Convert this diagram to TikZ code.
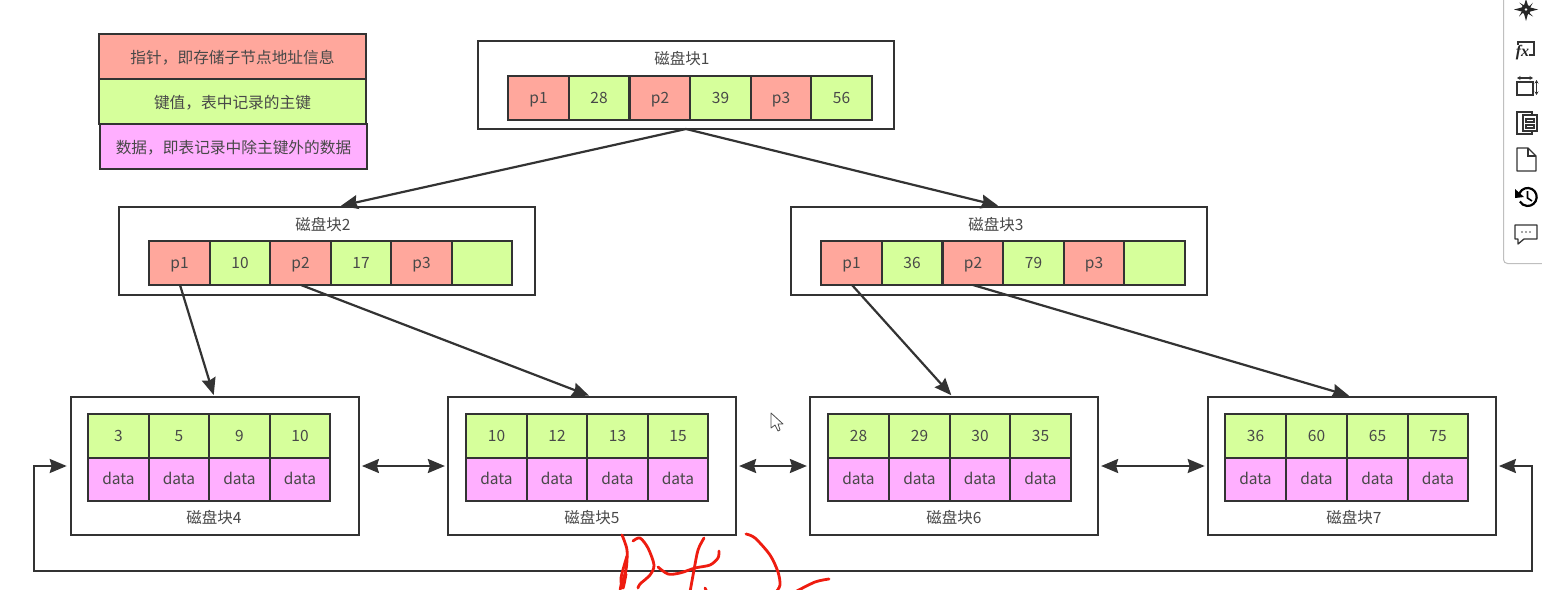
\documentclass[tikz,border=0pt]{standalone}
\usepackage{fontspec}
\usepackage{xcolor}
\usetikzlibrary{arrows.meta}
\setmainfont{Noto Sans CJK SC}
\newfontfamily\fxfont{Liberation Serif}
\definecolor{ptrred}{HTML}{FFA79C}
\definecolor{keygreen}{HTML}{D6FF9B}
\definecolor{datapink}{HTML}{FFAFFF}
\definecolor{linegray}{HTML}{333333}
\definecolor{textgray}{HTML}{484848}
\definecolor{penred}{HTML}{EE1C10}
\tikzset{
  cell/.style={draw=linegray,line width=2pt,minimum width=60.5,minimum height=44,inner sep=0pt,text=textgray,text height=11pt,text depth=0pt,font=\fontsize{15.5}{15.5}\selectfont},
  ptrcell/.style={cell,fill=ptrred},
  keycell/.style={cell,fill=keygreen},
  datacell/.style={cell,fill=datapink,minimum height=43},
  legendbox/.style={cell,minimum width=267,minimum height=45,text height=14pt,font=\fontsize{15.7}{15.7}\selectfont},
  block/.style={draw=linegray,line width=2.2pt,fill=white,inner sep=0pt},
  upperblock/.style={block,minimum width=416,minimum height=88},
  lowerblock/.style={block,minimum width=288,minimum height=138},
  blocklabel/.style={inner sep=0pt,text=textgray,text height=13pt,text depth=0pt,font=\fontsize{15.5}{15.5}\selectfont},
  link/.style={draw=linegray,line width=2.2pt,-{Stealth[length=17pt,width=14pt,inset=2pt]},shorten >=1},
  linkboth/.style={draw=linegray,line width=2.2pt,{Stealth[length=17pt,width=14pt,inset=2pt]}-{Stealth[length=17pt,width=14pt,inset=2pt]}},
  scribble/.style={draw=penred,line width=2.8pt,line cap=round,line join=round},
  icon/.style={draw=black!80,line width=1.3pt}
}
\begin{document}
\begin{tikzpicture}[x=1pt,y=-1pt]
\useasboundingbox (0,0) rectangle (1542,589);
% legend
\node[legendbox,fill=ptrred] (legendptr) at (232.5,56) {指针，即存储子节点地址信息};
\node[legendbox,fill=keygreen] (legendkey) at (232.5,101) {键值，表中记录的主键};
\node[legendbox,fill=datapink] (legenddata) at (233.5,146.5) {数据，即表记录中除主键外的数据};
% upper blocks
\node[upperblock] (b1) at (686,85) {};
\node[blocklabel] (b1label) at (682,58) {磁盘块1};
\node[ptrcell] (b1p1) at (538.5,98) {p1};
\node[keycell] (b1k1) at (599,98) {28};
\node[ptrcell] (b1p2) at (660,98) {p2};
\node[keycell] (b1k2) at (720.5,98) {39};
\node[ptrcell] (b1p3) at (781,98) {p3};
\node[keycell] (b1k3) at (841.5,98) {56};
\node[upperblock] (b2) at (327,251) {};
\node[blocklabel] (b2label) at (323,224) {磁盘块2};
\node[ptrcell] (b2p1) at (179.5,263) {p1};
\node[keycell] (b2k1) at (240,263) {10};
\node[ptrcell] (b2p2) at (300.5,263) {p2};
\node[keycell] (b2k2) at (361,263) {17};
\node[ptrcell] (b2p3) at (421.5,263) {p3};
\node[keycell] (b2k3) at (482,263) {};
\node[upperblock] (b3) at (999,251) {};
\node[blocklabel] (b3label) at (996,224) {磁盘块3};
\node[ptrcell] (b3p1) at (851.5,263) {p1};
\node[keycell] (b3k1) at (912,263) {36};
\node[ptrcell] (b3p2) at (973,263) {p2};
\node[keycell] (b3k2) at (1033.5,263) {79};
\node[ptrcell] (b3p3) at (1094,263) {p3};
\node[keycell] (b3k3) at (1154.5,263) {};
% lower blocks
\node[lowerblock] (b4) at (214.8,466) {};
\node[blocklabel] (b4label) at (214,517) {磁盘块4};
\node[keycell] (b4k1) at (118.5,435.5) {3};
\node[keycell] (b4k2) at (179,435.5) {5};
\node[keycell] (b4k3) at (239.5,435.5) {9};
\node[keycell] (b4k4) at (300,435.5) {10};
\node[datacell] (b4d1) at (118.5,479) {data};
\node[datacell] (b4d2) at (179,479) {data};
\node[datacell] (b4d3) at (239.5,479) {data};
\node[datacell] (b4d4) at (300,479) {data};
\node[lowerblock] (b5) at (592,466) {};
\node[blocklabel] (b5label) at (592,517) {磁盘块5};
\node[keycell] (b5k1) at (496.5,435.5) {10};
\node[keycell] (b5k2) at (557,435.5) {12};
\node[keycell] (b5k3) at (617.5,435.5) {13};
\node[keycell] (b5k4) at (678,435.5) {15};
\node[datacell] (b5d1) at (496.5,479) {data};
\node[datacell] (b5d2) at (557,479) {data};
\node[datacell] (b5d3) at (617.5,479) {data};
\node[datacell] (b5d4) at (678,479) {data};
\node[lowerblock] (b6) at (954,466) {};
\node[blocklabel] (b6label) at (954,517) {磁盘块6};
\node[keycell] (b6k1) at (858.5,435.5) {28};
\node[keycell] (b6k2) at (919.5,435.5) {29};
\node[keycell] (b6k3) at (980,435.5) {30};
\node[keycell] (b6k4) at (1040.5,435.5) {35};
\node[datacell] (b6d1) at (858.5,479) {data};
\node[datacell] (b6d2) at (919.5,479) {data};
\node[datacell] (b6d3) at (980,479) {data};
\node[datacell] (b6d4) at (1040.5,479) {data};
\node[lowerblock] (b7) at (1351.8,466) {};
\node[blocklabel] (b7label) at (1354,517) {磁盘块7};
\node[keycell] (b7k1) at (1255.5,435.5) {36};
\node[keycell] (b7k2) at (1316.5,435.5) {60};
\node[keycell] (b7k3) at (1377.5,435.5) {65};
\node[keycell] (b7k4) at (1438,435.5) {75};
\node[datacell] (b7d1) at (1255.5,479) {data};
\node[datacell] (b7d2) at (1316.5,479) {data};
\node[datacell] (b7d3) at (1377.5,479) {data};
\node[datacell] (b7d4) at (1438,479) {data};
% connectors
\coordinate (b1out) at (686,129);
\coordinate (b2in) at (340,206);
\coordinate (b2p1out) at (180,285);
\coordinate (b2p2out) at (301,285);
\coordinate (b3p1out) at (852,285);
\coordinate (b3p2out) at (973,285);
\coordinate (b4in) at (214,396);
\coordinate (b5in) at (590,396);
\coordinate (b6in) at (952,396);
\coordinate (b7in) at (1350,396);
\draw[link] (b1out) -- (b2in);
\draw[link] (b1out) -- (b3.north);
\draw[link] (b2p1out) -- (b4in);
\draw[link] (b2p2out) -- (b5in);
\draw[link] (b3p1out) -- (b6in);
\draw[link] (b3p2out) -- (b7in);
\draw[linkboth,shorten <=2,shorten >=2] (b4.east) -- (b5.west);
\draw[linkboth,shorten <=2,shorten >=2] (b5.east) -- (b6.west);
\draw[linkboth,shorten <=2,shorten >=2] (b6.east) -- (b7.west);
\draw[linkboth,shorten <=3,shorten >=2] (b4.west) -- (34,466) -- (34,571) -- (1532,571) -- (1532,466) -- (b7.east);
% mouse cursor
\draw[black!70,fill=white,line width=0.8pt,line join=round] (771,413) -- (771,428) -- (775,425) -- (778,431) -- (780,430) -- (778,424) -- (783,424) -- cycle;
% red pen marks
\draw[scribble] plot[smooth] coordinates {(622,535) (627,550) (626,570) (621,585) (620,592)};
\draw[scribble] plot[smooth] coordinates {(627,556) (621,578) (623,588) (626,574)};
\draw[scribble] plot[smooth] coordinates {(633,541) (640,538) (648,548) (654,565) (650,575) (640,584) (638,588)};
\draw[scribble] plot[smooth] coordinates {(658,567) (668,574) (680,573) (695,568) (710,565) (718,558) (719,551)};
\draw[scribble] plot[smooth] coordinates {(704,538) (698,550) (694,570) (690,592)};
\draw[scribble] (705,588) -- (707,592);
\draw[scribble] plot[smooth] coordinates {(746,534) (755,538) (770,555) (778,572) (780,585) (776,592)};
\draw[scribble] plot[smooth] coordinates {(795,592) (815,582) (829,579)};
% side toolbar
\draw[black!25,fill=white,line width=1pt,rounded corners=4] (1503.5,-8) -- (1503.5,263.5) -- (1550,263.5);
\fill[black!85] (1526,-1) -- (1528.5,7) -- (1538,9.5) -- (1528.5,12) -- (1526,21) -- (1523.5,12) -- (1514,9.5) -- (1523.5,7) -- cycle;
\fill[black!85] (1519,2.5) -- (1528,7.5) -- (1533,2.5) -- (1528,11.5) -- (1533,16.5) -- (1524,11.5) -- (1519,16.5) -- (1524,7.5) -- cycle;
\fill[black!85] (1526,9.5) circle (5);
\fill[white] (1526,9.5) circle (1.4);
\draw[icon] (1518,42) rectangle (1534,55);
\node[inner sep=0pt,fill=white,font=\fxfont\itshape\bfseries\fontsize{16}{16}\selectfont,text=black!85] (fxlabel) at (1522.5,52.5) {fx};
\draw[icon] (1517,82) rectangle (1533,95);
\draw[icon,{Stealth[length=3.5pt,width=4pt]}-{Stealth[length=3.5pt,width=4pt]}] (1517,78) -- (1533,78);
\draw[icon,{Stealth[length=3.5pt,width=4pt]}-{Stealth[length=3.5pt,width=4pt]}] (1536.5,80) -- (1536.5,95);
\draw[icon,line width=1.6pt] (1517,112) rectangle (1532,134);
\draw[icon,fill=white,line width=1.6pt] (1523,115) rectangle (1537,131);
\draw[icon] (1526,119) rectangle (1534,122);
\draw[icon] (1526,125) rectangle (1534,128);
\draw[icon,line join=round] (1517,148) -- (1528,148) -- (1536,156) -- (1536,171) -- (1517,171) -- cycle;
\draw[icon] (1528,148) -- (1528,156) -- (1536,156);
\draw[black,line width=2.2pt] (1518.7,196.2) arc[start angle=185,end angle=510,radius=9];
\fill[black] (1515,189) -- (1524,197) -- (1515,198) -- cycle;
\draw[black,line width=1.6pt] (1527.5,191) -- (1527.5,198) -- (1532,201);
\draw[icon,line join=round] (1515,225) -- (1537,225) -- (1537,239) -- (1524,239) -- (1518,244) -- (1518,239) -- (1515,239) -- cycle;
\fill[black!70] (1522,232) circle (0.8) (1526,232) circle (0.8) (1530,232) circle (0.8);
\end{tikzpicture}
\end{document}
